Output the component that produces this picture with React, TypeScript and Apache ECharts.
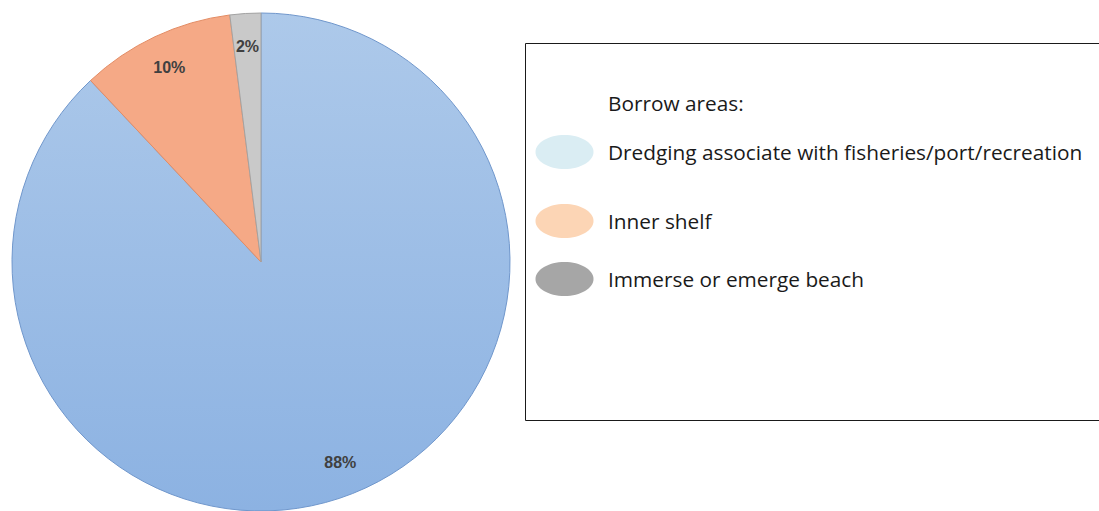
import React, { useEffect, useRef } from "react";
import * as echarts from "echarts";

const categories = [
  "Dredging associate with fisheries/port/recreation",
  "Inner shelf",
  "Immerse or emerge beach",
];
const values = [88, 10, 2];
const labels = ["88%", "10%", "2%"];
const legendTitle = "Borrow areas:";
const legendColors = ["#daedf3", "#fcd5b5", "#a6a6a6"];

export default function App() {
  const ref = useRef<HTMLDivElement>(null);
  useEffect(() => {
    document.body.style.margin = "0";
    const chart = echarts.init(ref.current!, null, { renderer: "svg" });
    const cx = 261;
    const cy = 262;
    const R = 249;
    const sliceStyles = [
      {
        color: new echarts.graphic.LinearGradient(0, 0, 0, 1, [
          { offset: 0, color: "#adc9ea" },
          { offset: 1, color: "#8cb2e2" },
        ]),
        borderColor: "#7097cc",
      },
      { color: "#f5a986", borderColor: "#e38c64" },
      { color: "#c9c9c9", borderColor: "#a3a3a3" },
    ];
    const font = "Open Sans";
    const legendItemsY = [152, 221, 279];
    const graphic: any[] = [
      {
        type: "rect",
        shape: { x: 525.5, y: 43.5, width: 600, height: 377 },
        style: { fill: "#fff", stroke: "#1a1a1a", lineWidth: 1 },
        z: 0,
      },
      {
        type: "text",
        x: 608,
        y: 103,
        style: {
          text: legendTitle,
          fill: "#1a1a1a",
          font: `20.8px "${font}"`,
          verticalAlign: "middle",
        },
      },
    ];
    categories.forEach((c, i) => {
      graphic.push({
        type: "ellipse",
        shape: { cx: 564.5, cy: legendItemsY[i], rx: 29, ry: 17 },
        style: { fill: legendColors[i] },
      });
      graphic.push({
        type: "text",
        x: 608,
        y: legendItemsY[i],
        style: {
          text: c,
          fill: "#1a1a1a",
          font: `20.8px "${font}"`,
          verticalAlign: "middle",
        },
      });
    });
    chart.setOption({
      animation: false,
      backgroundColor: "#fff",
      graphic,
      series: [
        {
          type: "pie",
          center: [cx, cy],
          radius: [0, R],
          startAngle: 90,
          clockwise: true,
          silent: true,
          label: { show: false },
          labelLine: { show: false },
          data: values.map((v, i) => ({
            value: v,
            name: categories[i],
            itemStyle: { ...sliceStyles[i], borderWidth: 1 },
          })),
        },
        {
          type: "pie",
          center: [cx, cy],
          radius: [176, R],
          startAngle: 90,
          clockwise: true,
          silent: true,
          itemStyle: { color: "rgba(0,0,0,0)" },
          label: {
            show: true,
            position: "inside",
            formatter: (p: any) => labels[p.dataIndex],
            color: "#404040",
            fontWeight: "bold",
            fontSize: 16,
            fontFamily: "Liberation Sans",
          },
          labelLine: { show: false },
          data: values.map((v, i) => ({ value: v, name: categories[i] })),
        },
      ],
    });
    return () => chart.dispose();
  }, []);
  return (
    <div
      ref={ref}
      style={{ position: "fixed", left: 0, top: 0, width: 1099, height: 511 }}
    />
  );
}
